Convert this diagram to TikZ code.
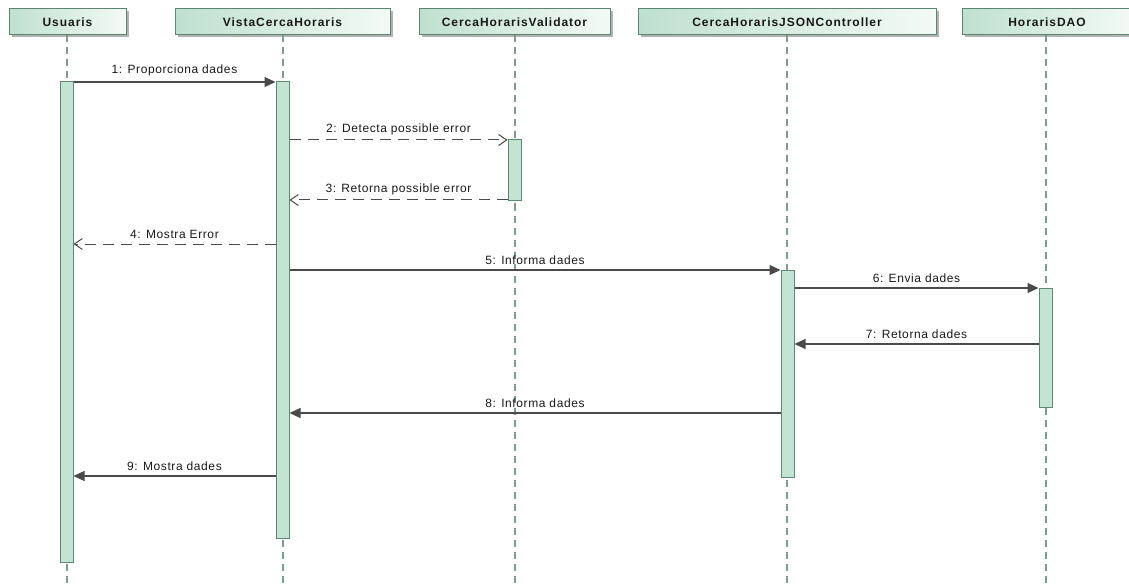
\documentclass[tikz,border=0pt]{standalone}
\usepackage{fontspec}
\setmainfont{Liberation Sans}
\newfontfamily\labfont[LetterSpace=5]{Liberation Sans}
\newfontfamily\headfont[LetterSpace=8]{Liberation Sans Bold}
\usetikzlibrary{arrows.meta}
\definecolor{headleft}{HTML}{BFE0CF}
\definecolor{headright}{HTML}{F3FAF6}
\definecolor{headborder}{HTML}{5B8570}
\definecolor{barfill}{HTML}{C3E3D3}
\definecolor{barborder}{HTML}{5E8A72}
\definecolor{lifecol}{HTML}{7F9A8E}
\definecolor{msgcol}{HTML}{4A4A4A}
\tikzset{
  x=1pt, y=-1pt,
  headbox/.style={draw=headborder, line width=1pt, left color=headleft, right color=headright, minimum height=26pt, inner sep=0pt,
    font=\headfont\fontsize{12}{14}\selectfont, text=black!90},
  actbar/.style={draw=barborder, line width=1pt, fill=barfill, minimum width=13pt, inner sep=0pt},
  lifeline/.style={draw=lifecol, line width=1.1pt, dash pattern=on 7pt off 5pt},
  syncmsg/.style={draw=msgcol, line width=1.1pt, -{Triangle[length=11pt,width=10pt]}},
  retmsg/.style={draw=msgcol, line width=1pt, dash pattern=on 11pt off 7pt, -{Straight Barb[length=8pt,width=11pt,line width=1pt]}},
  msglabel/.style={font=\labfont\fontsize{12}{14}\selectfont, text=black!90, inner sep=0pt, anchor=south}
}
\begin{document}
\begin{tikzpicture}
\useasboundingbox (0,0) rectangle (1129,588);
\clip (0,0) rectangle (1129,588);
% header shadows
\foreach \l/\r in {9/126, 175/390, 419/610, 638/936, 962/1132}
  \fill[black!30] (\l+2.5,11.5) rectangle (\r+2.5,37.5);
% headers
\node[headbox, minimum width=117pt] (hu) at (67.5,22) {Usuaris};
\node[headbox, minimum width=215pt] (hv) at (282.5,22) {VistaCercaHoraris};
\node[headbox, minimum width=191pt] (hval) at (514.5,22) {CercaHorarisValidator};
\node[headbox, minimum width=298pt] (hc) at (787,22) {CercaHorarisJSONController};
\node[headbox, minimum width=170pt] (hd) at (1047,22) {HorarisDAO};
% lifelines
\coordinate (eu) at (67,588);
\coordinate (ev) at (283,588);
\coordinate (eval) at (515,588);
\coordinate (ec) at (787,588);
\coordinate (ed) at (1046,588);
\draw[lifeline] (hu.south -| eu) -- (eu);
\draw[lifeline] (hv.south -| ev) -- (ev);
\draw[lifeline] (hval.south -| eval) -- (eval);
\draw[lifeline] (hc.south -| ec) -- (ec);
\draw[lifeline] (hd.south -| ed) -- (ed);
% activation bars
\node[actbar, minimum height=481pt] (bu) at (66.5,322) {};
\node[actbar, minimum height=456pt] (bv) at (282.5,310) {};
\node[actbar, minimum height=61pt] (bval) at (514.5,170) {};
\node[actbar, minimum height=207pt] (bc) at (787.5,373.5) {};
\node[actbar, minimum height=119pt] (bd) at (1045.5,347.5) {};
% messages
\draw[syncmsg] (bu.east |- 0,82) -- node[msglabel, above=5pt] {1: Proporciona dades} (bv.west |- 0,82);
\draw[retmsg] (bv.east |- 0,140) -- node[msglabel, above=5pt] {2: Detecta possible error} (bval.west |- 0,140);
\draw[retmsg] (bval.west |- 0,200) -- node[msglabel, above=5pt] {3: Retorna possible error} (bv.east |- 0,200);
\draw[retmsg] (bv.west |- 0,244) -- node[msglabel, above=5pt] {4: Mostra Error} (bu.east |- 0,244);
\draw[syncmsg] (bv.east |- 0,270) -- node[msglabel, above=5pt] {5: Informa dades} (bc.west |- 0,270);
\draw[syncmsg] (bc.east |- 0,288) -- node[msglabel, above=5pt] {6: Envia dades} (bd.west |- 0,288);
\draw[syncmsg] (bd.west |- 0,344) -- node[msglabel, above=5pt] {7: Retorna dades} (bc.east |- 0,344);
\draw[syncmsg] (bc.west |- 0,413) -- node[msglabel, above=5pt] {8: Informa dades} (bv.east |- 0,413);
\draw[syncmsg] (bv.west |- 0,476) -- node[msglabel, above=5pt] {9: Mostra dades} (bu.east |- 0,476);
\end{tikzpicture}
\end{document}
